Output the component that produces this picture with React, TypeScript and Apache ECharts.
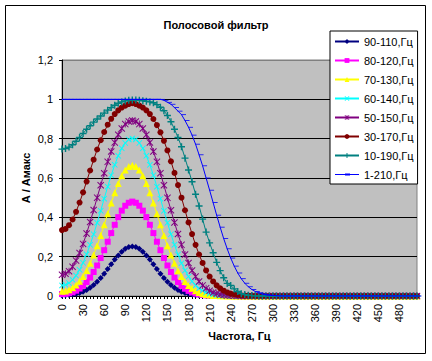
import React, { useEffect, useRef } from 'react';
import * as echarts from 'echarts';

const categories = [
  '0','5','10','15','20','25','30','35','40','45',
  '50','55','60','65','70','75','80','85','90','95',
  '100','105','110','115','120','125','130','135','140','145',
  '150','155','160','165','170','175','180','185','190','195',
  '200','205','210','215','220','225','230','235','240','245',
  '250','255','260','265','270','275','280','285','290','295',
  '300','305','310','315','320','325','330','335','340','345',
  '350','355','360','365','370','375','380','385','390','395',
  '400','405','410','415','420','425','430','435','440','445',
  '450','455','460','465','470','475','480','485','490','495',
  '500','505',
];

const seriesNames = ['90-110,Гц', '80-120,Гц', '70-130,Гц', '60-140,Гц', '50-150,Гц', '30-170,Гц', '10-190,Гц', '1-210,Гц'];

const band90_110 = [
  0.003,0.004,0.005,0.007,0.010,0.015,0.022,0.031,0.042,0.056,
  0.072,0.092,0.113,0.137,0.161,0.185,0.206,0.225,0.240,0.249,
  0.252,0.249,0.240,0.225,0.206,0.185,0.161,0.137,0.113,0.092,
  0.072,0.056,0.042,0.031,0.022,0.015,0.010,0.007,0.004,0.003,
  0.002,0.001,0,0,0,0,0,0,0,0,
  0,0,0,0,0,0,0,0,0,0,
  0,0,0,0,0,0,0,0,0,0,
  0,0,0,0,0,0,0,0,0,0,
  0,0,0,0,0,0,0,0,0,0,
  0,0,0,0,0,0,0,0,0,0,
  0,0,
];

const band80_120 = [
  0.010,0.011,0.014,0.019,0.027,0.038,0.052,0.071,0.094,0.122,
  0.155,0.193,0.233,0.276,0.320,0.362,0.401,0.434,0.459,0.474,
  0.480,0.474,0.459,0.434,0.401,0.362,0.320,0.276,0.233,0.193,
  0.155,0.122,0.094,0.071,0.052,0.037,0.026,0.018,0.012,0.008,
  0.005,0.003,0.002,0.001,0.001,0,0,0,0,0,
  0,0,0,0,0,0,0,0,0,0,
  0,0,0,0,0,0,0,0,0,0,
  0,0,0,0,0,0,0,0,0,0,
  0,0,0,0,0,0,0,0,0,0,
  0,0,0,0,0,0,0,0,0,0,
  0,0,
];

const band70_130 = [
  0.024,0.026,0.032,0.042,0.056,0.075,0.099,0.130,0.166,0.208,
  0.255,0.307,0.362,0.418,0.473,0.525,0.572,0.611,0.641,0.659,
  0.665,0.659,0.641,0.611,0.572,0.525,0.473,0.418,0.362,0.307,
  0.255,0.208,0.166,0.129,0.099,0.074,0.054,0.039,0.027,0.018,
  0.012,0.008,0.005,0.003,0.002,0.001,0.001,0,0,0,
  0,0,0,0,0,0,0,0,0,0,
  0,0,0,0,0,0,0,0,0,0,
  0,0,0,0,0,0,0,0,0,0,
  0,0,0,0,0,0,0,0,0,0,
  0,0,0,0,0,0,0,0,0,0,
  0,0,
];

const band60_140 = [
  0.054,0.057,0.066,0.082,0.104,0.133,0.169,0.212,0.260,0.314,
  0.372,0.433,0.495,0.556,0.614,0.667,0.713,0.751,0.778,0.796,
  0.801,0.796,0.778,0.751,0.713,0.667,0.614,0.556,0.495,0.433,
  0.372,0.314,0.260,0.211,0.167,0.130,0.099,0.074,0.054,0.039,
  0.027,0.018,0.012,0.008,0.005,0.003,0.002,0.001,0.001,0,
  0,0,0,0,0,0,0,0,0,0,
  0,0,0,0,0,0,0,0,0,0,
  0,0,0,0,0,0,0,0,0,0,
  0,0,0,0,0,0,0,0,0,0,
  0,0,0,0,0,0,0,0,0,0,
  0,0,
];

const band50_150 = [
  0.108,0.113,0.126,0.149,0.180,0.219,0.265,0.318,0.376,0.437,
  0.500,0.563,0.624,0.682,0.735,0.781,0.820,0.852,0.874,0.887,
  0.892,0.887,0.874,0.852,0.820,0.781,0.735,0.682,0.624,0.563,
  0.499,0.436,0.374,0.315,0.260,0.211,0.168,0.130,0.099,0.074,
  0.054,0.039,0.027,0.018,0.012,0.008,0.005,0.003,0.002,0.001,
  0.001,0,0,0,0,0,0,0,0,0,
  0,0,0,0,0,0,0,0,0,0,
  0,0,0,0,0,0,0,0,0,0,
  0,0,0,0,0,0,0,0,0,0,
  0,0,0,0,0,0,0,0,0,0,
  0,0,
];

const band30_170 = [
  0.335,0.341,0.360,0.389,0.428,0.475,0.527,0.582,0.638,0.693,
  0.745,0.792,0.834,0.871,0.901,0.925,0.944,0.958,0.968,0.976,
  0.980,0.976,0.968,0.958,0.944,0.925,0.900,0.869,0.832,0.789,
  0.740,0.685,0.626,0.564,0.500,0.436,0.374,0.315,0.260,0.211,
  0.168,0.130,0.099,0.074,0.054,0.039,0.027,0.018,0.012,0.008,
  0.005,0.003,0.002,0.001,0.001,0,0,0,0,0,
  0,0,0,0,0,0,0,0,0,0,
  0,0,0,0,0,0,0,0,0,0,
  0,0,0,0,0,0,0,0,0,0,
  0,0,0,0,0,0,0,0,0,0,
  0,0,
];

const band10_190 = [
  0.747,0.750,0.757,0.769,0.787,0.806,0.826,0.848,0.866,0.884,
  0.900,0.915,0.930,0.945,0.958,0.970,0.980,0.987,0.992,0.995,
  0.996,0.996,0.995,0.993,0.990,0.987,0.983,0.973,0.960,0.942,
  0.918,0.886,0.848,0.806,0.759,0.701,0.641,0.581,0.517,0.458,
  0.391,0.325,0.270,0.220,0.171,0.129,0.093,0.064,0.054,0.036,
  0.023,0.012,0.007,0.004,0.002,0.001,0,0,0,0,
  0,0,0,0,0,0,0,0,0,0,
  0,0,0,0,0,0,0,0,0,0,
  0,0,0,0,0,0,0,0,0,0,
  0,0,0,0,0,0,0,0,0,0,
  0,0,
];

const band1_210 = [
  1,1,1,1,1,1,1,1,1,1,
  1,1,1,1,1,1,1,1,1,1,
  1,1,1,1,1,1,1,1,1,0.995,
  0.985,0.975,0.958,0.940,0.922,0.892,0.858,0.818,0.772,0.718,
  0.662,0.600,0.538,0.475,0.411,0.350,0.292,0.240,0.193,0.152,
  0.117,0.088,0.065,0.047,0.033,0.023,0.016,0.010,0.006,0.004,
  0.002,0.001,0,0,0,0,0,0,0,0,
  0,0,0,0,0,0,0,0,0,0,
  0,0,0,0,0,0,0,0,0,0,
  0,0,0,0,0,0,0,0,0,0,
  0,0,
];

const seriesValues = [band90_110, band80_120, band70_130, band60_140, band50_150, band30_170, band10_190, band1_210];
const seriesColors = ['#000080', '#FF00FF', '#FFFF00', '#00FFFF', '#800080', '#800000', '#008080', '#0000FF'];

const PLUS = 'path://M4,0H6V4H10V6H6V10H4V6H0V4H4Z';
const CROSS = 'path://M1,0L5,4L9,0L10,1L6,5L10,9L9,10L5,6L1,10L0,9L4,5L0,1Z';
const STAR = 'path://M1,0L5,4L9,0L10,1L6,5L10,9L9,10L5,6L1,10L0,9L4,5L0,1Z M4.4,0H5.6V10H4.4Z';
const DASH = 'path://M0,0H10V4H0Z';
const DASH_LEGEND = 'path://M0,0Z M24,6Z M0,2.5H24V3.5H0Z M10,2H15V4H10Z';
const seriesSymbols = ['diamond', 'rect', 'triangle', CROSS, STAR, 'circle', PLUS, DASH];
const seriesSymbolSizes: any[] = [6, 6, 7, 6, 7, 6, 7, [5, 2]];

const FONT = 'Arial, "Liberation Sans", sans-serif';

export default function App() {
  const ref = useRef<HTMLDivElement>(null);
  useEffect(() => {
    if (!ref.current) return;
    const chart = echarts.init(ref.current, undefined, { renderer: 'svg' });
    chart.setOption({
      animation: false,
      backgroundColor: '#ffffff',
      textStyle: { fontFamily: FONT, color: '#000' },
      title: {
        text: 'Полосовой фильтр',
        left: 'center',
        top: 14,
        textStyle: { fontFamily: FONT, fontSize: 11, fontWeight: 'bold', color: '#000' },
      },
      legend: {
        orient: 'vertical',
        left: 330,
        top: 31,
        backgroundColor: '#ffffff',
        borderColor: '#000',
        borderWidth: 1,
        borderRadius: 0,
        padding: [4, 4, 3, 4],
        itemGap: 6,
        itemWidth: 24,
        itemHeight: 6,
        selectedMode: false,
        textStyle: { fontFamily: FONT, fontSize: 11, color: '#000', lineHeight: 13 },
        data: seriesNames.map((n, i) => (i === 7 ? { name: n, icon: DASH_LEGEND } : n)),
      },
      graphic: [
        {
          type: 'rect',
          shape: { x: 5.5, y: 5.5, width: 420, height: 348 },
          style: { fill: 'none', stroke: '#000', lineWidth: 1 },
          silent: true,
          z: 100,
        },
      ],
      grid: {
        left: 62,
        right: 15,
        top: 60,
        bottom: 65,
        show: true,
        backgroundColor: '#C0C0C0',
        borderColor: '#808080',
        borderWidth: 1,
      },
      xAxis: {
        type: 'category',
        data: categories,
        boundaryGap: false,
        name: 'Частота, Гц',
        nameLocation: 'middle',
        nameGap: 33,
        nameTextStyle: { fontFamily: FONT, fontSize: 11, fontWeight: 'bold', color: '#000' },
        axisLine: { lineStyle: { color: '#000', width: 1 } },
        axisTick: { show: true, interval: 0, length: 3, lineStyle: { color: '#000' } },
        axisLabel: { interval: 5, rotate: 90, margin: 8, fontSize: 11, color: '#000', fontFamily: FONT },
        splitLine: { show: false },
      },
      yAxis: {
        type: 'value',
        min: 0,
        max: 1.2,
        interval: 0.2,
        name: 'А / Амакс',
        nameLocation: 'middle',
        nameRotate: 90,
        nameGap: 31,
        nameMoveOverlap: false,
        nameTextStyle: { fontFamily: FONT, fontSize: 11, fontWeight: 'bold', color: '#000' },
        axisLine: { show: true, lineStyle: { color: '#000', width: 1 } },
        axisTick: { show: true, length: 3, lineStyle: { color: '#000' } },
        axisLabel: {
          margin: 9,
          fontSize: 11,
          color: '#000',
          fontFamily: FONT,
          formatter: (v: number) => String(Math.round(v * 10) / 10).replace('.', ','),
        },
        splitLine: {
          show: true,
          lineStyle: { color: ['#000', '#000', '#000', '#000', '#000', '#000', '#808080'], width: 1 },
        },
      },
      series: seriesValues.map((vals, i) => ({
        name: seriesNames[i],
        type: 'line',
        data: vals,
        symbol: seriesSymbols[i],
        symbolSize: seriesSymbolSizes[i],
        symbolKeepAspect: i === 7,
        symbolOffset: i === 7 ? [2, 0] : [0, 0],
        showSymbol: true,
        showAllSymbol: true,
        lineStyle: { color: seriesColors[i], width: 1 },
        itemStyle: { color: seriesColors[i], borderWidth: 0 },
        emphasis: { disabled: true },
        z: 2 + i,
      })),
    });
    return () => chart.dispose();
  }, []);
  return <div ref={ref} style={{ position: 'absolute', left: 0, top: 0, width: 432, height: 361 }} />;
}
